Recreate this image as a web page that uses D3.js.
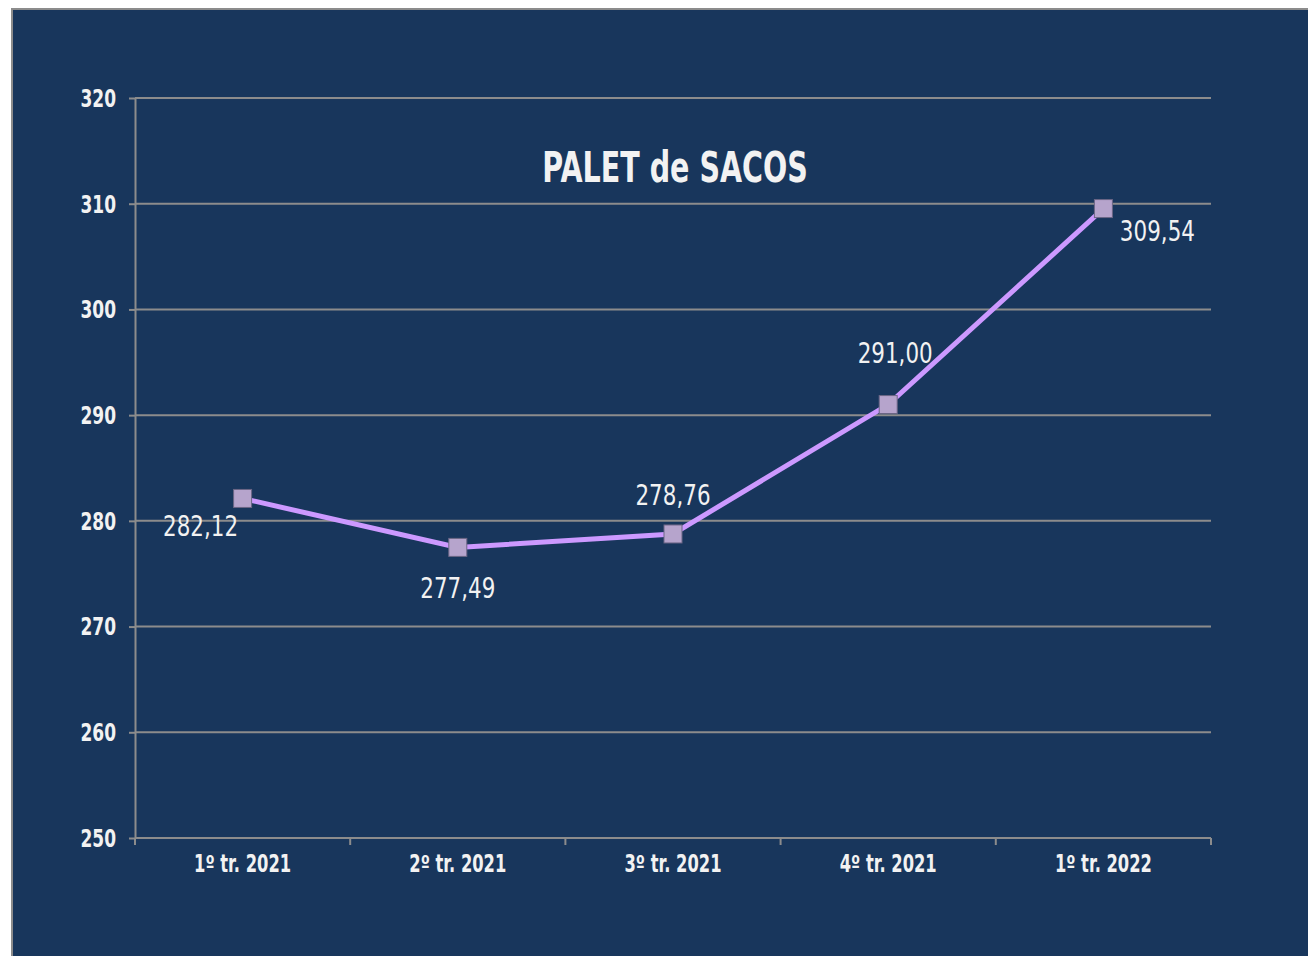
<!DOCTYPE html>
<html>
<head>
<meta charset="utf-8">
<script src="https://cdn.jsdelivr.net/npm/d3@7"></script>
<style>
  body { margin: 0; background: #fff; }
  svg { display: block; }
  .axis text { fill: #f2f2f2; font-family: "DejaVu Sans", sans-serif; font-weight: bold; font-size: 24px; }
  .axis path, .axis line { stroke: #8c8c8c; stroke-width: 2; }
</style>
</head>
<body>
<svg id="chart"></svg>
<script>
// chart data
const categories = ["1º tr. 2021", "2º tr. 2021", "3º tr. 2021", "4º tr. 2021", "1º tr. 2022"];
const values = [282.12, 277.49, 278.76, 291.00, 309.54];
const labels = ["282,12", "277,49", "278,76", "291,00", "309,54"];
const yTicks = [250, 260, 270, 280, 290, 300, 310, 320];

const W = 1308, H = 956;
const margin = {top: 98, right: 97, bottom: 118, left: 135};
const width = W - margin.left - margin.right;
const height = H - margin.top - margin.bottom;
const FONT = '"DejaVu Sans", sans-serif';
const SQ = 0.68; // squeeze to fake a condensed face

const svg = d3.select("#chart").attr("width", W).attr("height", H);

// dark panel
svg.append("rect")
    .attr("x", 12).attr("y", 9)
    .attr("width", W).attr("height", H)
    .attr("fill", "#18365c")
    .attr("stroke", "#8c8c8c")
    .attr("stroke-width", 2);

const g = svg.append("g").attr("transform", `translate(${margin.left},${margin.top})`);

const x = d3.scaleBand().domain(categories).range([0, width]);
const y = d3.scaleLinear().domain([250, 320]).range([height, 0]);

// gridlines
g.append("g")
    .selectAll("line")
    .data(yTicks.slice(1))
    .join("line")
    .attr("x1", 0).attr("x2", width)
    .attr("y1", d => y(d)).attr("y2", d => y(d))
    .attr("stroke", "#8c8c8c")
    .attr("stroke-width", 2);

// y axis
const yAxisG = g.append("g")
    .attr("class", "axis")
    .call(d3.axisLeft(y).tickValues(yTicks).tickSize(6).tickPadding(13).tickSizeOuter(0));
yAxisG.selectAll("text")
    .attr("x", -19 / 0.71)
    .attr("dy", "0.35em")
    .attr("transform", "scale(0.71,1)");

// x axis, ticks sit at the band edges
const xAxisG = g.append("g")
    .attr("class", "axis")
    .attr("transform", `translate(0,${height})`)
    .call(d3.axisBottom(x).tickSize(0).tickPadding(17));
xAxisG.select(".domain").remove();
xAxisG.selectAll("text").attr("transform", `scale(${SQ},1)`);
xAxisG.append("line")
    .attr("x1", 0).attr("x2", width)
    .attr("y1", 0).attr("y2", 0);
xAxisG.selectAll(".bnd")
    .data(d3.range(categories.length + 1))
    .join("line")
    .attr("class", "bnd")
    .attr("x1", i => i * x.bandwidth()).attr("x2", i => i * x.bandwidth())
    .attr("y1", 0).attr("y2", 7);

const cx = d => x(d) + x.bandwidth() / 2;

// line
const line = d3.line()
    .x((d, i) => cx(categories[i]))
    .y(d => y(d));

g.append("path")
    .datum(values)
    .attr("d", line)
    .attr("fill", "none")
    .attr("stroke", "#cc99ff")
    .attr("stroke-width", 5);

// markers
const ms = 18;
g.selectAll(".marker")
    .data(values)
    .join("rect")
    .attr("class", "marker")
    .attr("x", (d, i) => cx(categories[i]) - ms / 2)
    .attr("y", d => y(d) - ms / 2)
    .attr("width", ms).attr("height", ms)
    .attr("fill", "#b6a4cc")
    .attr("stroke", "#6b6685")
    .attr("stroke-width", 1);

// data labels
const offsets = [[-42, 38], [0, 51], [0, -29], [7, -42], [54, 32]];
g.selectAll(".dlabel")
    .data(values)
    .join("text")
    .attr("class", "dlabel")
    .attr("transform", (d, i) =>
        `translate(${cx(categories[i]) + offsets[i][0]},${y(d) + offsets[i][1]}) scale(0.74,1)`)
    .attr("text-anchor", "middle")
    .attr("fill", "#f2f2f2")
    .attr("font-family", FONT)
    .attr("font-size", 29)
    .text((d, i) => labels[i]);

// title
svg.append("text")
    .attr("transform", "translate(675,182) scale(0.68,1)")
    .attr("text-anchor", "middle")
    .attr("fill", "#f2f2f2")
    .attr("font-family", FONT)
    .attr("font-weight", "bold")
    .attr("font-size", 42)
    .text("PALET de SACOS");
</script>
</body>
</html>
